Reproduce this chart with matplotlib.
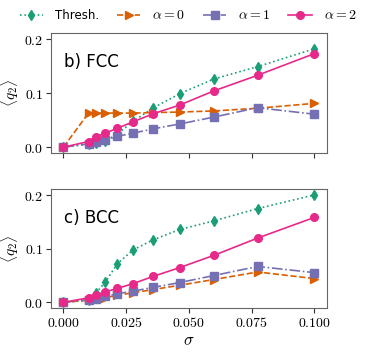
"""Order parameter <q2> vs noise sigma for FCC and BCC."""

import matplotlib
matplotlib.use("Agg")
import matplotlib.pyplot as plt
from matplotlib.ticker import FuncFormatter

plt.rcParams['mathtext.fontset'] = 'cm'
plt.rcParams['font.family'] = ['DejaVu Sans']

sigma = [0.0, 0.01, 0.0129, 0.0167, 0.0215, 0.0278, 0.0359, 0.0464, 0.0599, 0.0774, 0.1]

# b) FCC
fcc_thresh = [0.0, 0.0055, 0.007, 0.012, 0.024, 0.048, 0.073, 0.099, 0.126, 0.149, 0.182]
fcc_a0 = [0.0, 0.063, 0.063, 0.063, 0.063, 0.063, 0.064, 0.065, 0.067, 0.072, 0.081]
fcc_a1 = [0.0, 0.006, 0.010, 0.0135, 0.020, 0.026, 0.034, 0.043, 0.0556, 0.073, 0.061]
fcc_a2 = [0.0, 0.0104, 0.019, 0.026, 0.035, 0.047, 0.062, 0.078, 0.104, 0.133, 0.173]

# c) BCC
bcc_thresh = [0.0, 0.004, 0.017, 0.038, 0.072, 0.098, 0.117, 0.136, 0.152, 0.175, 0.2005]
bcc_a0 = [0.0, 0.004, 0.006, 0.009, 0.013, 0.018, 0.024, 0.032, 0.0426, 0.0567, 0.0444]
bcc_a1 = [0.0, 0.005, 0.007, 0.011, 0.016, 0.021, 0.028, 0.037, 0.050, 0.067, 0.0555]
bcc_a2 = [0.0, 0.0085, 0.0135, 0.0197, 0.026, 0.035, 0.0487, 0.065, 0.0876, 0.120, 0.1585]

labels = ["Thresh.", r"$\alpha=0$", r"$\alpha=1$", r"$\alpha=2$"]
colors = ["#1b9e77", "#d95f02", "#7570b3", "#e7298a"]
markers = ["d", ">", "s", "o"]
styles = [":", "--", "-.", "-"]

panels = [("b) FCC", [fcc_thresh, fcc_a0, fcc_a1, fcc_a2]),
          ("c) BCC", [bcc_thresh, bcc_a0, bcc_a1, bcc_a2])]

# -----------------------------------------------------------------------------
fig = plt.figure(figsize=(3.74, 3.53), dpi=100)
ax_top = fig.add_axes([0.136, 0.567, 0.738, 0.340])
ax_bot = fig.add_axes([0.136, 0.1275, 0.738, 0.337])

fmt = FuncFormatter(lambda v, p: r"$%.1f$" % v)
xfmt = FuncFormatter(lambda v, p: r"$%.3f$" % v)

for ax, (title, series) in zip([ax_top, ax_bot], panels):
    for i, ys in enumerate(series):
        ax.plot(sigma, ys, linestyle=styles[i], marker=markers[i], color=colors[i],
                markersize=5.5, linewidth=1.2, label=labels[i])
    ax.set_xlim(-0.005, 0.105)
    ax.set_ylim(-0.0105, 0.2115)
    ax.set_xticks([0.0, 0.025, 0.05, 0.075, 0.1])
    ax.set_yticks([0.0, 0.1, 0.2])
    ax.yaxis.set_major_formatter(fmt)
    ax.xaxis.set_major_formatter(xfmt)
    ax.set_ylabel(r"$\langle q_2 \rangle$", fontsize=11, labelpad=2)
    ax.text(0.047, 0.76, title, transform=ax.transAxes, fontsize=12, va="center")
    for s in ax.spines.values():
        s.set_color("#666666")
    ax.tick_params(labelsize=10, color="#333333", length=3.5, pad=2)

ax_top.tick_params(labelbottom=False)
ax_bot.set_xlabel(r"$\sigma$", fontsize=12, labelpad=1)

handles, labs = ax_top.get_legend_handles_labels()
leg = fig.legend(handles, labs, loc="center", bbox_to_anchor=(0.503, 0.957), ncol=4,
                 frameon=False, fontsize=8.5, handlelength=2.0, columnspacing=1.5,
                 handletextpad=1.0)
for t in leg.get_texts()[1:]:
    t.set_fontsize(10)

fig.savefig("out.png", dpi=100)
